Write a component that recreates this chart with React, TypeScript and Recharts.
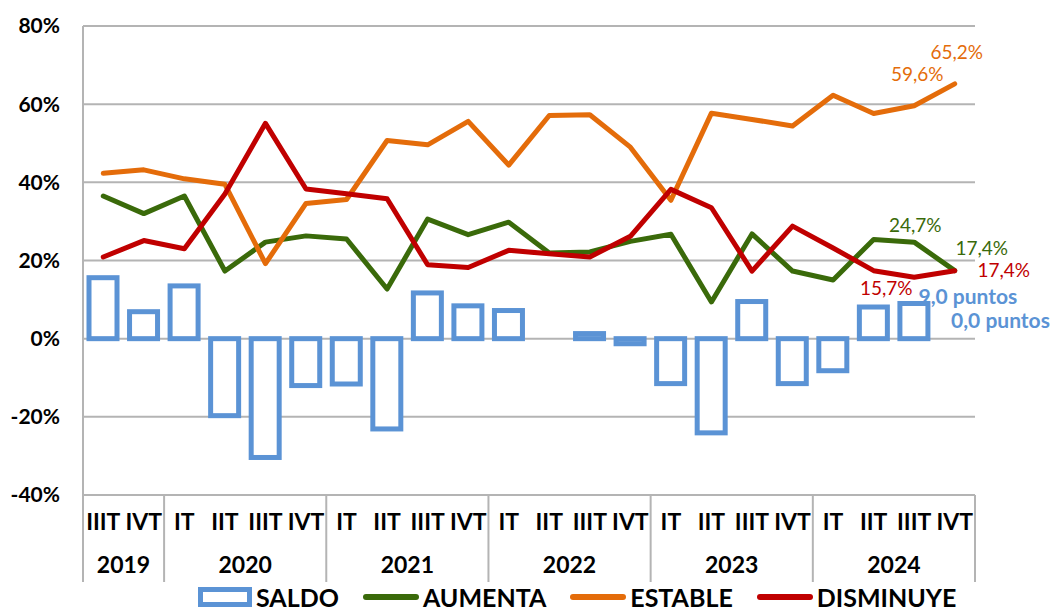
import React from 'react';
import { ComposedChart, Bar, Line, XAxis, YAxis, CartesianGrid, Legend, LabelList } from 'recharts';

const QUARTERS = ['IIIT', 'IVT', 'IT', 'IIT', 'IIIT', 'IVT', 'IT', 'IIT', 'IIIT', 'IVT', 'IT', 'IIT', 'IIIT', 'IVT', 'IT', 'IIT', 'IIIT', 'IVT', 'IT', 'IIT', 'IIIT', 'IVT'];
const YEARS = ['2019', '2020', '2021', '2022', '2023', '2024'];
const QUARTERS_PER_YEAR = [2, 4, 4, 4, 4, 4];

const SALDO = [15.6, 6.9, 13.5, -19.7, -30.4, -12.0, -11.6, -23.1, 11.7, 8.4, 7.2, 0, 1.3, -1.3, -11.5, -24.1, 9.5, -11.5, -8.2, 8.1, 9.0, 0.0];
const AUMENTA = [36.5, 32.0, 36.5, 17.3, 24.7, 26.3, 25.5, 12.7, 30.6, 26.6, 29.8, 21.9, 22.2, 24.9, 26.7, 9.4, 26.8, 17.3, 15.0, 25.4, 24.7, 17.4];
const ESTABLE = [42.3, 43.2, 40.9, 39.5, 19.2, 34.6, 35.6, 50.7, 49.6, 55.6, 44.4, 57.1, 57.3, 49.0, 35.4, 57.7, 56.1, 54.4, 62.3, 57.6, 59.6, 65.2];
const DISMINUYE = [20.9, 25.1, 23.0, 37.0, 55.1, 38.3, 37.1, 35.8, 18.9, 18.2, 22.6, 21.7, 20.9, 26.2, 38.2, 33.5, 17.3, 28.8, 23.2, 17.4, 15.7, 17.4];
const Y_TICKS = [-40, -20, 0, 20, 40, 60, 80];

// year lookup per quarter
const GROUPS: { year: string; pos: number; count: number }[] = [];
YEARS.forEach((y, gi) => {
  for (let p = 0; p < QUARTERS_PER_YEAR[gi]; p++) GROUPS.push({ year: y, pos: p, count: QUARTERS_PER_YEAR[gi] });
});

const data = QUARTERS.map((q, i) => ({
  key: `${GROUPS[i].year}-${q}-${i}`,
  idx: i,
  quarter: q,
  saldo: SALDO[i],
  aumenta: AUMENTA[i],
  estable: ESTABLE[i],
  disminuye: DISMINUYE[i],
}));

const W = 1056;
const H = 612;
const PLOT_LEFT = 83;
const PLOT_RIGHT = 975;
const BAND = (PLOT_RIGHT - PLOT_LEFT) / QUARTERS.length;
const FONT = 'Lato, "Open Sans", sans-serif';
const GRID = '#b4b4b4';
const BLUE = '#5B93D5';
const GREEN = '#3A6A0A';
const ORANGE = '#E46C0A';
const RED = '#C00000';

const fmt = (v: number) => v.toFixed(1).replace('.', ',');

const XTick = (props: any) => {
  const { x, y, index } = props;
  const g = GROUPS[index];
  const els: React.ReactNode[] = [];
  els.push(
    <text key="q" x={x} y={y + 35} textAnchor="middle" fontFamily={FONT} fontWeight={700} fontSize={23} fill="#000">
      {QUARTERS[index]}
    </text>
  );
  if (g.pos === 0) {
    els.push(<line key="s" x1={x - BAND / 2} x2={x - BAND / 2} y1={y} y2={y + 87} stroke={GRID} strokeWidth={2} />);
  }
  if (index === QUARTERS.length - 1) {
    els.push(<line key="e" x1={x + BAND / 2} x2={x + BAND / 2} y1={y} y2={y + 87} stroke={GRID} strokeWidth={2} />);
  }
  if (g.pos === Math.floor(g.count / 2) - 1) {
    els.push(
      <text key="y" x={x + BAND / 2} y={y + 78} textAnchor="middle" fontFamily={FONT} fontWeight={700} fontSize={23} fill="#000">
        {g.year}
      </text>
    );
  }
  return <g>{els}</g>;
};

const getXY = (p: any) => {
  const vb = p.viewBox || {};
  return {
    x: vb.x ?? p.x,
    y: vb.y ?? p.y,
  };
};

const lineLabel = (color: string, offsets: Record<number, [number, number]>) => (p: any) => {
  const off = offsets[p.index];
  if (!off) return null;
  const { x, y } = getXY(p);
  return (
    <text x={x + off[0]} y={y + off[1]} textAnchor="middle" dominantBaseline="central" fill={color} fontSize={19} fontFamily={FONT}>
      {fmt(Number(p.value))}%
    </text>
  );
};

// label offsets for SALDO bars, relative to the bar's top centre
const BAR_LABEL_OFFSETS: Record<number, [number, number]> = { 20: [54, -8], 21: [46, -19] };

const BarShape = (p: any) => {
  const x = Number(p.x);
  const y = Number(p.y);
  const width = Number(p.width);
  const height = Number(p.height);
  const idx = p.payload && typeof p.payload.idx === 'number' ? p.payload.idx : p.index;
  const top = Math.min(y, y + height);
  const h = Math.abs(height);
  const off = BAR_LABEL_OFFSETS[idx];
  return (
    <g>
      {h > 0 && <rect x={x} y={top} width={width} height={h} fill="#fff" stroke={BLUE} strokeWidth={5} />}
      {off && (
        <text x={x + width / 2 + off[0]} y={top + off[1]} textAnchor="middle" dominantBaseline="central" fill={BLUE} fontSize={21} fontWeight={700} fontFamily={FONT}>
          {fmt(Number(p.payload?.saldo ?? 0))} puntos
        </text>
      )}
    </g>
  );
};

const LEGEND_ITEMS = [
  { name: 'SALDO', type: 'bar', color: BLUE },
  { name: 'AUMENTA', type: 'line', color: GREEN },
  { name: 'ESTABLE', type: 'line', color: ORANGE },
  { name: 'DISMINUYE', type: 'line', color: RED },
];

const renderLegend = () => (
  <div style={{ display: 'flex', alignItems: 'center', height: 34, paddingLeft: 198, position: 'relative', top: 4 }}>
    {LEGEND_ITEMS.map((it) => (
      <div key={it.name} style={{ display: 'flex', alignItems: 'center', marginRight: 24 }}>
        {it.type === 'bar' ? (
          <svg width={54} height={20}>
            <rect x={2.5} y={2.5} width={49} height={15} fill="#fff" stroke={it.color} strokeWidth={5} />
          </svg>
        ) : (
          <svg width={56} height={20}>
            <line x1={3} x2={53} y1={10} y2={10} stroke={it.color} strokeWidth={6} strokeLinecap="round" />
          </svg>
        )}
        <span style={{ fontFamily: FONT, fontWeight: 700, fontSize: 25, color: '#000', marginLeft: 4, lineHeight: '30px' }}>{it.name}</span>
      </div>
    ))}
  </div>
);

export default function App() {
  return (
    <div style={{ position: 'absolute', left: 0, top: 0, width: W, height: H, background: '#fff' }}>
      <ComposedChart width={W} height={H} data={data} margin={{ top: 26, right: W - PLOT_RIGHT, bottom: 0, left: 0 }} barGap={0}>
        <CartesianGrid vertical={false} stroke={GRID} strokeWidth={2} />
        <XAxis
          dataKey="key"
          interval={0}
          height={81}
          tickLine={false}
          tickSize={0}
          tickMargin={0}
          axisLine={{ stroke: GRID, strokeWidth: 2 }}
          tick={(p: any) => <XTick {...p} />}
        />
        <YAxis
          domain={[-40, 80]}
          ticks={Y_TICKS}
          width={PLOT_LEFT}
          tickFormatter={(v: number) => `${v}%`}
          axisLine={{ stroke: GRID, strokeWidth: 2 }}
          tickLine={false}
          tickSize={0}
          tickMargin={23}
          tick={{ fontSize: 21, fontWeight: 700, fill: '#000', fontFamily: FONT }}
        />
        <Legend
          verticalAlign="bottom"
          height={36}
          content={renderLegend}
          wrapperStyle={{ left: 0, bottom: 0, width: W, height: 36 }}
        />
        <Bar dataKey="saldo" name="SALDO" barSize={28} fill="#fff" stroke={BLUE} strokeWidth={5} shape={(p: any) => <BarShape {...p} />} isAnimationActive={false} />
        <Line dataKey="aumenta" name="AUMENTA" stroke={GREEN} strokeWidth={5} dot={false} strokeLinejoin="round" strokeLinecap="round" isAnimationActive={false}>
          <LabelList dataKey="aumenta" content={lineLabel(GREEN, { 20: [1, -18], 21: [27, -23] })} />
        </Line>
        <Line dataKey="estable" name="ESTABLE" stroke={ORANGE} strokeWidth={5} dot={false} strokeLinejoin="round" strokeLinecap="round" isAnimationActive={false}>
          <LabelList dataKey="estable" content={lineLabel(ORANGE, { 20: [3, -32], 21: [2, -32] })} />
        </Line>
        <Line dataKey="disminuye" name="DISMINUYE" stroke={RED} strokeWidth={5} dot={false} strokeLinejoin="round" strokeLinecap="round" isAnimationActive={false}>
          <LabelList dataKey="disminuye" content={lineLabel(RED, { 20: [-28, 10], 21: [49, -1] })} />
        </Line>
      </ComposedChart>
    </div>
  );
}
